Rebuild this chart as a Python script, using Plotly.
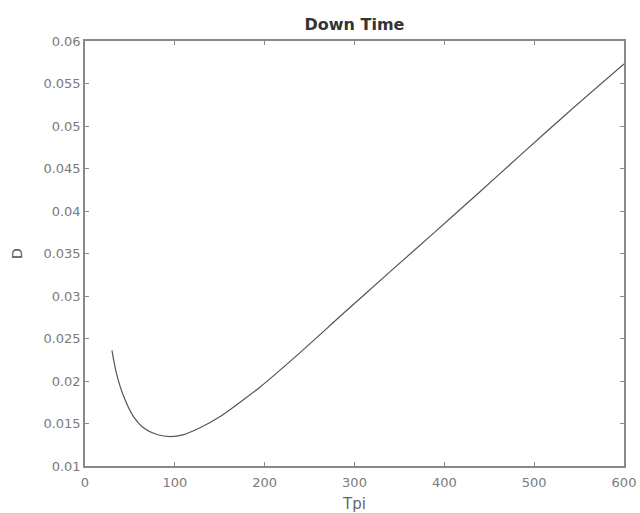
import plotly.graph_objects as go

# Values
tpi = [30, 35, 43, 54, 65, 80, 95, 110, 128, 150, 170, 195, 240, 285, 340, 385, 440, 485, 540, 600]
down_time = [0.0236, 0.0209, 0.0182, 0.0158, 0.0145, 0.0137, 0.01345, 0.0137, 0.0145, 0.0158,
             0.0173, 0.0193, 0.0234, 0.0277, 0.0329, 0.0371, 0.0423, 0.0466, 0.0518, 0.0573]

x_ticks = [0, 100, 200, 300, 400, 500, 600]
y_ticks = [0.01, 0.015, 0.02, 0.025, 0.03, 0.035, 0.04, 0.045, 0.05, 0.055, 0.06]
y_tick_text = ["0.01", "0.015", "0.02", "0.025", "0.03", "0.035", "0.04", "0.045", "0.05", "0.055", "0.06"]

FONT = "DejaVu Sans, sans-serif"

fig = go.Figure()
fig.add_trace(go.Scatter(
    x=tpi, y=down_time, mode="lines",
    line=dict(color="#555555", width=1.2, shape="spline", smoothing=0.8),
    showlegend=False, hoverinfo="skip",
))

axis_common = dict(
    showgrid=False, zeroline=False, showline=True, mirror="ticks",
    linecolor="#8a8a8a", linewidth=1.5, ticks="inside", ticklen=4,
    tickcolor="#8a8a8a", tickwidth=1, automargin=False,
    tickfont=dict(family=FONT, size=13, color="#7a7a7a"),
)

fig.update_layout(
    width=640, height=513,
    paper_bgcolor="white", plot_bgcolor="white",
    margin=dict(l=85, r=16, t=41, b=47),
    title=dict(text="<b>Down Time</b>", x=(85 + 624) / 2 / 640, xanchor="center",
               y=1 - 24 / 513, yanchor="middle", yref="container",
               font=dict(family=FONT, size=16, color="#333333")),
    xaxis=dict(range=[0, 600], tickvals=x_ticks, ticklabelstandoff=4,
               title=dict(text="Tpi", standoff=9,
                          font=dict(family=FONT, size=15, color="#666666")),
               **axis_common),
    yaxis=dict(range=[0.01, 0.06], tickvals=y_ticks, ticktext=y_tick_text,
               title=dict(text="D", standoff=18,
                          font=dict(family=FONT, size=14, color="#555555")),
               **axis_common),
)

fig.write_html("out.html", config={"displayModeBar": False},
               post_script="document.body.style.margin='0';")
